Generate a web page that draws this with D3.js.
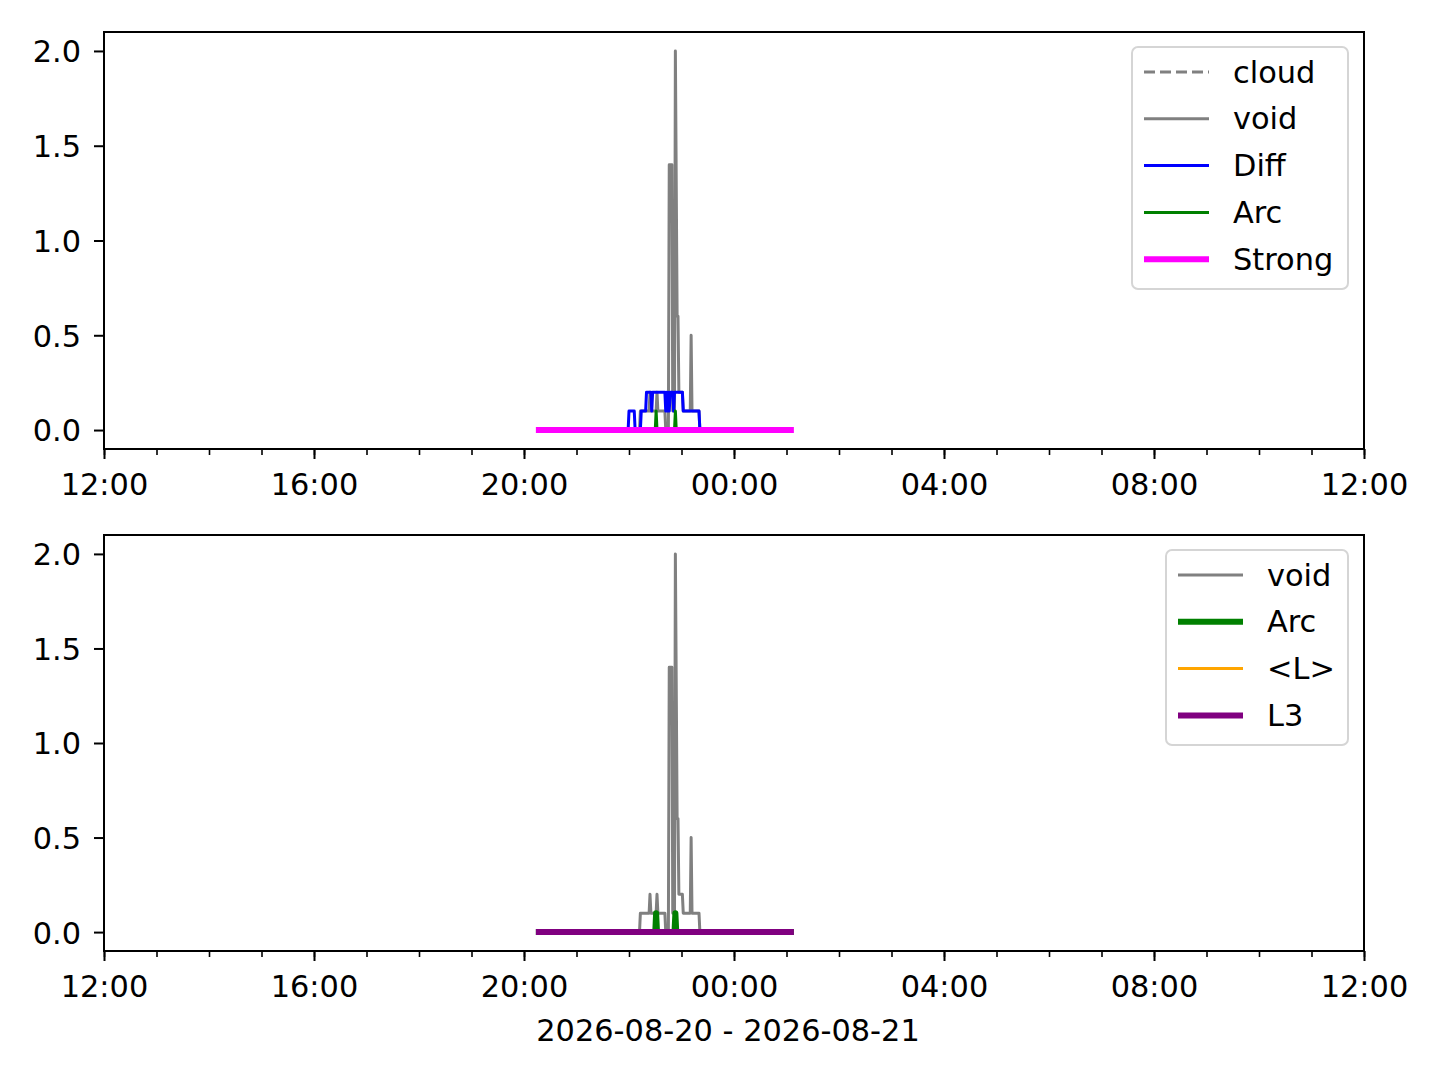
<!DOCTYPE html>
<html>
<head>
<meta charset="utf-8">
<script src="https://cdn.jsdelivr.net/npm/d3@7"></script>
<style>
  html, body { margin: 0; padding: 0; background: #fff; }
  svg { display: block; font-family: "DejaVu Sans", sans-serif; }
</style>
</head>
<body>
<div id="chart"></div>
<script>
// time window shown on the x axis
const xStart = "2026-08-20 12:00";
const xEnd = "2026-08-21 12:00";
const yTicks = [0.0, 0.5, 1.0, 1.5, 2.0];
const dateLabel = "2026-08-20 - 2026-08-21";

// void (grey) — breakpoints
const voidTimes = ["2026-08-20 20:17", "2026-08-20 22:12", "2026-08-20 22:13", "2026-08-20 22:23", "2026-08-20 22:24",
  "2026-08-20 22:25", "2026-08-20 22:31", "2026-08-20 22:32", "2026-08-20 22:33", "2026-08-20 22:41",
  "2026-08-20 22:42", "2026-08-20 22:45", "2026-08-20 22:46", "2026-08-20 22:49", "2026-08-20 22:50",
  "2026-08-20 22:52", "2026-08-20 22:53", "2026-08-20 22:55", "2026-08-20 22:56", "2026-08-20 22:57",
  "2026-08-20 23:01", "2026-08-20 23:02", "2026-08-20 23:10", "2026-08-20 23:11", "2026-08-20 23:12",
  "2026-08-20 23:20", "2026-08-20 23:21", "2026-08-21 01:05"];
const voidValues = [0, 0, 0.1, 0.1, 0.2,
  0.1, 0.1, 0.2, 0.1, 0.1,
  0, 0, 1.4, 1.4, 0.1,
  0.1, 2.0, 0.6, 0.6, 0.2,
  0.2, 0.1, 0.1, 0.5, 0.1,
  0.1, 0, 0];

// cloud (dashed grey) sits at zero the whole time
const cloudTimes = ["2026-08-20 20:17", "2026-08-21 01:05"];
const cloudValues = [0, 0];

// Diff (blue)
const diffTimes = ["2026-08-20 20:17", "2026-08-20 21:59", "2026-08-20 22:00", "2026-08-20 22:06", "2026-08-20 22:07",
  "2026-08-20 22:13", "2026-08-20 22:14", "2026-08-20 22:19", "2026-08-20 22:20", "2026-08-20 22:25",
  "2026-08-20 22:26", "2026-08-20 22:27", "2026-08-20 22:41", "2026-08-20 22:42", "2026-08-20 22:43",
  "2026-08-20 22:44", "2026-08-20 22:45", "2026-08-20 22:46", "2026-08-20 22:47", "2026-08-20 22:50",
  "2026-08-20 22:51", "2026-08-20 22:52", "2026-08-20 23:01", "2026-08-20 23:02", "2026-08-20 23:20",
  "2026-08-20 23:21", "2026-08-21 01:05"];
const diffValues = [0, 0, 0.1, 0.1, 0,
  0, 0.1, 0.1, 0.2, 0.2,
  0.1, 0.2, 0.2, 0.1, 0.2,
  0.1, 0.2, 0.1, 0.2, 0.2,
  0.1, 0.2, 0.2, 0.1, 0.1,
  0, 0];

// Arc (green)
const arcTimes = ["2026-08-20 20:17", "2026-08-20 22:30", "2026-08-20 22:31", "2026-08-20 22:32",
  "2026-08-20 22:52", "2026-08-20 22:53", "2026-08-20 22:54", "2026-08-21 01:05"];
const arcValues = [0, 0, 0.1, 0, 0, 0.1, 0, 0];

// Strong (magenta), <L> (orange), L3 (purple): flat at zero
const strongTimes = ["2026-08-20 20:17", "2026-08-21 01:05"];
const strongValues = [0, 0];
const lTimes = ["2026-08-20 20:17", "2026-08-21 01:05"];
const lValues = [0, 0];
const l3Times = ["2026-08-20 20:17", "2026-08-21 01:05"];
const l3Values = [0, 0];

const parse = d3.timeParse("%Y-%m-%d %H:%M");
const zip = (ts, vs) => ts.map((t, i) => ({ t: parse(t), v: vs[i] }));

const W = 1440, H = 1080;
const FS = 30.4;
const svg = d3.select("#chart").append("svg")
  .attr("width", W).attr("height", H)
  .attr("viewBox", [0, 0, W, H]);

const panels = [
  {
    top: 32, bottom: 449,
    series: [
      { name: "cloud", data: zip(cloudTimes, cloudValues), color: "#808080", width: 3, dash: "11,5" },
      { name: "void", data: zip(voidTimes, voidValues), color: "#808080", width: 3 },
      { name: "Diff", data: zip(diffTimes, diffValues), color: "#0000ff", width: 3 },
      { name: "Arc", data: zip(arcTimes, arcValues), color: "#008000", width: 3 },
      { name: "Strong", data: zip(strongTimes, strongValues), color: "#ff00ff", width: 6 }
    ],
    legend: { x: 1132, y: 47, w: 216, h: 242, handleX: 1144, textX: 1233, firstRow: 72 }
  },
  {
    top: 535, bottom: 951,
    series: [
      { name: "void", data: zip(voidTimes, voidValues), color: "#808080", width: 3 },
      { name: "Arc", data: zip(arcTimes, arcValues), color: "#008000", width: 6 },
      { name: "<L>", data: zip(lTimes, lValues), color: "#ffa500", width: 3 },
      { name: "L3", data: zip(l3Times, l3Values), color: "#800080", width: 6 }
    ],
    legend: { x: 1166, y: 550, w: 182, h: 195, handleX: 1178, textX: 1267, firstRow: 575 }
  }
];

const left = 104, right = 1364;
const x = d3.scaleTime().domain([parse(xStart), parse(xEnd)]).range([left, right]);
const rowGap = 46.8;

panels.forEach(p => {
  const y = d3.scaleLinear().domain([-0.1, 2.1]).range([p.bottom, p.top]);
  const g = svg.append("g");

  // clip to axes area
  const clipId = "clip" + p.top;
  svg.append("clipPath").attr("id", clipId)
    .append("rect").attr("x", left).attr("y", p.top)
    .attr("width", right - left).attr("height", p.bottom - p.top);

  const line = d3.line().x(d => x(d.t)).y(d => y(d.v));
  const lines = g.append("g").attr("clip-path", `url(#${clipId})`);
  p.series.forEach(s => {
    lines.append("path")
      .attr("d", line(s.data))
      .attr("fill", "none")
      .attr("stroke", s.color)
      .attr("stroke-width", s.width)
      .attr("stroke-linejoin", "round")
      .attr("stroke-linecap", s.dash ? "butt" : "square")
      .attr("stroke-dasharray", s.dash || null);
  });

  // x axis: major every 4h, minor hourly
  const xAxis = d3.axisBottom(x)
    .ticks(d3.timeHour.every(4))
    .tickFormat(d3.timeFormat("%H:%M"))
    .tickSize(10).tickPadding(10);
  const xMinor = d3.axisBottom(x)
    .ticks(d3.timeHour.every(1))
    .tickFormat("")
    .tickSize(6);
  g.append("g").attr("transform", `translate(0,${p.bottom})`).call(xMinor)
    .call(a => a.select(".domain").remove())
    .selectAll("line").attr("stroke", "#000").attr("stroke-width", 1.6);
  const xa = g.append("g").attr("transform", `translate(0,${p.bottom})`).call(xAxis);
  xa.select(".domain").remove();
  xa.selectAll("line").attr("stroke", "#000").attr("stroke-width", 2);
  xa.selectAll("text").attr("font-size", FS).attr("fill", "#000")
    .attr("font-family", "DejaVu Sans").attr("dy", null).attr("y", 46);

  const ya = g.append("g").attr("transform", `translate(${left},0)`)
    .call(d3.axisLeft(y).tickValues(yTicks).tickFormat(d3.format(".1f")).tickSize(10).tickPadding(13));
  ya.select(".domain").remove();
  ya.selectAll("line").attr("stroke", "#000").attr("stroke-width", 2);
  ya.selectAll("text").attr("font-size", FS).attr("fill", "#000")
    .attr("font-family", "DejaVu Sans").attr("dy", "0.36em");

  // frame
  g.append("rect").attr("x", left).attr("y", p.top)
    .attr("width", right - left).attr("height", p.bottom - p.top)
    .attr("fill", "none").attr("stroke", "#000").attr("stroke-width", 2);

  // legend
  const L = p.legend;
  const lg = g.append("g");
  lg.append("rect").attr("x", L.x).attr("y", L.y).attr("width", L.w).attr("height", L.h)
    .attr("rx", 6).attr("fill", "#fff").attr("fill-opacity", 0.8)
    .attr("stroke", "#d5d5d5").attr("stroke-width", 2);
  p.series.forEach((s, i) => {
    const ry = L.firstRow + i * rowGap;
    lg.append("line").attr("x1", L.handleX).attr("x2", L.handleX + 65)
      .attr("y1", ry).attr("y2", ry)
      .attr("stroke", s.color).attr("stroke-width", s.width)
      .attr("stroke-dasharray", s.dash || null);
    lg.append("text").attr("x", L.textX).attr("y", ry + 10.5)
      .attr("font-size", FS).attr("fill", "#000").text(s.name);
  });
});

svg.append("text").attr("x", 728).attr("y", 1041)
  .attr("text-anchor", "middle").attr("font-size", FS).attr("fill", "#000")
  .text(dateLabel);
</script>
</body>
</html>
